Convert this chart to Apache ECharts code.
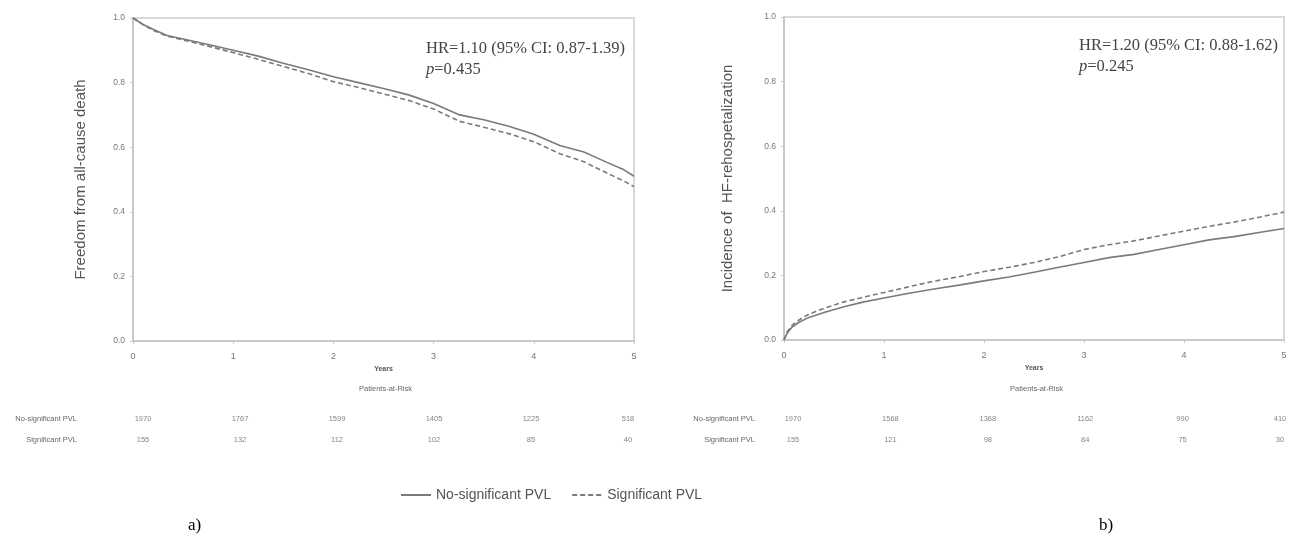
<!DOCTYPE html>
<html>
<head>
<meta charset="utf-8">
<script src="https://cdn.jsdelivr.net/npm/echarts@6/dist/echarts.min.js"></script>
<style>
    html, body { margin: 0; padding: 0; background: #fff; }
    #chart { width: 1303px; height: 541px; }
</style>
</head>
<body>
<div id="chart"></div>
<script>
// panel a) freedom from all-cause death
var yearsA  = [0, 0.1, 0.2, 0.34, 0.5, 0.75, 1.0, 1.25, 1.5, 1.75, 2.0, 2.25, 2.5, 2.75, 3.0, 3.26, 3.5, 3.75, 4.0, 4.26, 4.5, 4.73, 4.9, 5.0];
var noSigA  = [1.0, 0.98, 0.965, 0.946, 0.935, 0.918, 0.900, 0.882, 0.860, 0.840, 0.818, 0.800, 0.782, 0.762, 0.735, 0.700, 0.685, 0.665, 0.640, 0.605, 0.585, 0.553, 0.530, 0.510];
var sigA    = [1.0, 0.98, 0.962, 0.944, 0.932, 0.913, 0.893, 0.872, 0.850, 0.828, 0.803, 0.785, 0.765, 0.745, 0.718, 0.680, 0.662, 0.642, 0.617, 0.580, 0.555, 0.520, 0.495, 0.478];

// panel b) incidence of HF rehospitalization
var yearsB  = [0, 0.03, 0.08, 0.15, 0.25, 0.4, 0.6, 0.8, 1.0, 1.25, 1.5, 1.75, 2.0, 2.25, 2.5, 2.75, 3.0, 3.25, 3.5, 3.75, 4.0, 4.25, 4.5, 4.75, 5.0];
var noSigB  = [0, 0.02, 0.04, 0.055, 0.07, 0.085, 0.103, 0.118, 0.130, 0.145, 0.158, 0.170, 0.183, 0.195, 0.210, 0.225, 0.240, 0.255, 0.265, 0.280, 0.295, 0.310, 0.320, 0.333, 0.345];
var sigB    = [0, 0.025, 0.045, 0.062, 0.08, 0.098, 0.118, 0.133, 0.147, 0.165, 0.182, 0.196, 0.212, 0.225, 0.240, 0.258, 0.280, 0.295, 0.307, 0.322, 0.337, 0.352, 0.365, 0.380, 0.396];

// patients-at-risk tables
var riskYears   = [0, 1, 2, 3, 4, 5];
var riskRows    = ['No-significant PVL', 'Significant PVL'];
var riskNoSigA  = [1970, 1767, 1599, 1405, 1225, 518];
var riskSigA    = [155, 132, 112, 102, 85, 40];
var riskNoSigB  = [1970, 1568, 1368, 1162, 990, 410];
var riskSigB    = [155, 121, 98, 84, 75, 30];

function pairs(xs, ys) {
    return xs.map(function (x, i) { return [x, ys[i]]; });
}
function riskData(a, b) {
    var out = [];
    riskYears.forEach(function (y, i) {
        out.push([y, riskRows[0], a[i]]);
        out.push([y, riskRows[1], b[i]]);
    });
    return out;
}

var sans = 'Liberation Sans, Arial, sans-serif';
var serif = 'Liberation Serif, Times New Roman, serif';
var axisGrey = '#c8c8c8';

function plotX(gridIndex) {
    return {
        type: 'value', gridIndex: gridIndex, min: 0, max: 5, interval: 1,
        name: 'Years', nameLocation: 'middle', nameGap: 21,
        nameTextStyle: { fontSize: 7, fontWeight: 'bold', color: '#555', fontFamily: sans },
        axisLine: { lineStyle: { color: axisGrey, width: 2 } },
        axisTick: { length: 3, lineStyle: { color: axisGrey } },
        axisLabel: { fontSize: 9, color: '#777', margin: 11, fontFamily: sans },
        splitLine: { show: false }
    };
}
function plotY(gridIndex, title, gap) {
    return {
        type: 'value', gridIndex: gridIndex, min: 0, max: 1, interval: 0.2,
        name: title, nameLocation: 'middle', nameGap: gap, nameRotate: 90,
        nameTextStyle: { fontSize: 15, color: '#555', fontFamily: sans },
        axisLine: { show: true, lineStyle: { color: axisGrey, width: 2 } },
        axisTick: { show: true, length: 3, lineStyle: { color: axisGrey } },
        axisLabel: { fontSize: 8.5, color: '#777', margin: 8, fontFamily: sans,
            formatter: function (v) { return v.toFixed(1); } },
        splitLine: { show: false }
    };
}
function riskX(gridIndex) {
    return {
        type: 'value', gridIndex: gridIndex, min: 0, max: 5, position: 'top',
        name: 'Patients-at-Risk', nameLocation: 'middle', nameGap: 15,
        nameTextStyle: { fontSize: 7.5, color: '#666', fontFamily: sans },
        axisLine: { show: false }, axisTick: { show: false },
        axisLabel: { show: false }, splitLine: { show: false }
    };
}
function riskY(gridIndex, margin) {
    return {
        type: 'category', gridIndex: gridIndex, data: riskRows, inverse: true,
        axisLine: { show: false }, axisTick: { show: false }, splitLine: { show: false },
        axisLabel: { fontSize: 7.5, color: '#666', margin: margin, fontFamily: sans }
    };
}
function curve(name, xi, yi, xs, ys, dashed) {
    return {
        name: name, type: 'line', xAxisIndex: xi, yAxisIndex: yi,
        data: pairs(xs, ys), showSymbol: false, symbol: 'none', smooth: false,
        lineStyle: { color: '#7a7a7a', width: 1.6, type: dashed ? [5, 3] : 'solid' },
        itemStyle: { color: '#7a7a7a' }
    };
}
function riskSeries(xi, yi, a, b) {
    return {
        type: 'scatter', xAxisIndex: xi, yAxisIndex: yi, symbolSize: 0,
        data: riskData(a, b), silent: true,
        label: { show: true, position: 'inside', fontSize: 7.5, color: '#666', fontFamily: sans,
            formatter: function (p) { return p.value[2]; } }
    };
}
function statText(txt, left, top) {
    return {
        text: txt, left: left, top: top,
        textStyle: { fontSize: 16.5, fontWeight: 'normal', color: '#444', fontFamily: serif, lineHeight: 21,
            rich: { i: { fontStyle: 'italic', fontSize: 16.5, color: '#444', fontFamily: serif } } }
    };
}

var chart = echarts.init(document.getElementById('chart'));
chart.setOption({
    backgroundColor: '#fff',
    animation: false,
    grid: [
        { left: 133, top: 18, width: 501, height: 323, show: true, borderColor: '#d8d8d8', borderWidth: 2 },
        { left: 784, top: 17, width: 500, height: 323, show: true, borderColor: '#d8d8d8', borderWidth: 2 },
        { left: 143, top: 408, width: 485, height: 42 },
        { left: 793, top: 408, width: 487, height: 42 }
    ],
    xAxis: [plotX(0), plotX(1), riskX(2), riskX(3)],
    yAxis: [
        plotY(0, 'Freedom from all-cause death', 45),
        plotY(1, 'Incidence of  HF-rehospetalization', 49),
        riskY(2, 66),
        riskY(3, 38)
    ],
    legend: {
        left: 395, top: 483, itemWidth: 30, itemHeight: 10, itemGap: 20,
        data: ['No-significant PVL', 'Significant PVL'],
        itemStyle: { opacity: 0 },
        textStyle: { fontSize: 14, color: '#555', fontFamily: sans }
    },
    title: [
        statText('HR=1.10 (95% CI: 0.87-1.39)\n{i|p}=0.435', 421, 33),
        statText('HR=1.20 (95% CI: 0.88-1.62)\n{i|p}=0.245', 1074, 30),
        { text: 'a)', left: 183, top: 512,
          textStyle: { fontSize: 17, fontWeight: 'normal', color: '#000', fontFamily: serif } },
        { text: 'b)', left: 1094, top: 512,
          textStyle: { fontSize: 17, fontWeight: 'normal', color: '#000', fontFamily: serif } }
    ],
    series: [
        curve('No-significant PVL', 0, 0, yearsA, noSigA, false),
        curve('Significant PVL', 0, 0, yearsA, sigA, true),
        curve('No-significant PVL', 1, 1, yearsB, noSigB, false),
        curve('Significant PVL', 1, 1, yearsB, sigB, true),
        riskSeries(2, 2, riskNoSigA, riskSigA),
        riskSeries(3, 3, riskNoSigB, riskSigB)
    ]
});
</script>
</body>
</html>
